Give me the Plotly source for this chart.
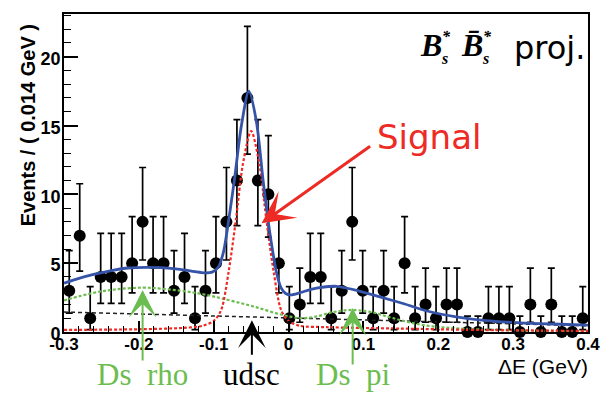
import numpy as np
import plotly.graph_objects as go

# ---- binning: 50 bins of 0.014 GeV over [-0.3, 0.4] ----
de_lo, de_hi, n_bins = -0.3, 0.4, 50
bin_width = (de_hi - de_lo) / n_bins
de_centers = de_lo + bin_width * (np.arange(n_bins) + 0.5)

# events per bin
counts = [3, 7, 1, 4, 4, 4, 5, 8, 5, 5,
          3, 4, 1, 3, 5, 8, 11, 17, 11, 10,
          5, 1, 2, 4, 4, 1, 3, 8, 3, 1,
          3, 1, 5, 1, 2, 1, 2, 2, 0, 0,
          1, 1, 1, 0, 2, 0, 2, 0, 0, 1]

# 68% Poisson intervals (lower, upper) for n = 0..17
poisson_lo = [0.0, 0.173, 0.708, 1.367, 2.086, 2.840, 3.620, 4.419, 5.232,
              6.057, 6.891, 7.734, 8.585, 9.441, 10.30, 11.17, 12.04, 12.92]
poisson_hi = [1.148, 3.300, 4.638, 5.918, 7.163, 8.382, 9.584, 10.77, 11.95,
              13.11, 14.27, 15.42, 16.56, 17.70, 18.83, 19.96, 21.08, 22.20]

err_up = [poisson_hi[n] - n for n in counts]
err_dn = [n - poisson_lo[n] for n in counts]

# ---- fit projections ----
total_x = [-0.300, -0.280, -0.259, -0.235, -0.214, -0.190, -0.170, -0.145,
           -0.125, -0.112, -0.102, -0.094, -0.087, -0.079, -0.072, -0.063,
           -0.053, -0.043, -0.034, -0.025, -0.016, -0.010, -0.004, 0.003,
           0.015, 0.030, 0.045, 0.064, 0.091, 0.122, 0.153, 0.189, 0.224,
           0.264, 0.309, 0.353, 0.400]
total_y = [3.55, 3.90, 4.20, 4.48, 4.65, 4.70, 4.67, 4.55,
           4.38, 4.30, 4.35, 4.70, 5.80, 8.50, 11.2, 15.0,
           17.5, 15.3, 11.0, 7.2, 4.3, 3.2, 2.8, 2.7,
           2.85, 3.10, 3.25, 3.32, 3.03, 2.55, 2.07, 1.47, 1.10,
           0.82, 0.67, 0.58, 0.50]

signal_x = [-0.300, -0.200, -0.140, -0.115, -0.100, -0.090, -0.080, -0.070,
            -0.061, -0.050, -0.039, -0.030, -0.020, -0.010, 0.000, 0.015,
            0.050, 0.150, 0.250, 0.400]
signal_y = [0.15, 0.20, 0.30, 0.45, 0.80, 1.60, 4.40, 8.30,
            12.2, 14.6, 12.2, 8.30, 4.40, 1.60, 0.80, 0.45,
            0.35, 0.25, 0.15, 0.08]

peaking_x = [-0.300, -0.260, -0.230, -0.195, -0.170, -0.145, -0.125, -0.106,
             -0.090, -0.062, -0.040, -0.016, 0.000, 0.015, 0.035, 0.060,
             0.085, 0.110, 0.140, 0.180, 0.230, 0.300, 0.400]
peaking_y = [2.30, 2.85, 3.10, 3.22, 3.15, 3.00, 2.85, 2.65,
             2.45, 2.07, 1.75, 1.35, 1.15, 1.00, 1.10, 1.45,
             1.60, 1.45, 1.00, 0.50, 0.25, 0.12, 0.05]

udsc_x = [-0.300, 0.400]
udsc_y = [1.45, 0.45]

# axis ticks
x_tickvals = [-0.3, -0.2, -0.1, 0.0, 0.1, 0.2, 0.3, 0.4]
x_ticktext = ["-0.3", "-0.2", "-0.1", "0", "0.1", "0.2", "0.3", "0.4"]
y_tickvals = [0, 5, 10, 15, 20]
y_ticktext = ["0", "5", "10", "15", "20"]

W, H = 615, 394
ML, MR, MT, MB = 64, 27, 12, 62
y_max = 23.1

GREEN = "#6cbd4f"
RED = "#ee2a24"
BLUE = "#3553a8"


def px(x):
    return (x - ML) / (W - ML - MR)


def py(y):
    return (H - MB - y) / (H - MT - MB)


fig = go.Figure()

fig.add_trace(go.Scatter(
    x=de_centers, y=counts, mode="markers",
    marker=dict(color="black", size=12),
    error_y=dict(type="data", symmetric=False, array=err_up, arrayminus=err_dn,
                 color="black", thickness=1.7, width=3.5),
    cliponaxis=False, hoverinfo="skip"))

fig.add_trace(go.Scatter(
    x=udsc_x, y=udsc_y, mode="lines",
    line=dict(color="#222222", width=1.5, dash="4px,3px")))

fig.add_trace(go.Scatter(
    x=peaking_x, y=peaking_y, mode="lines",
    line=dict(color=GREEN, width=2.2, dash="3px,2px", shape="spline", smoothing=1.0)))

fig.add_trace(go.Scatter(
    x=signal_x, y=signal_y, mode="lines",
    line=dict(color=RED, width=2.2, dash="3px,2px", shape="spline", smoothing=0.8)))

fig.add_trace(go.Scatter(
    x=total_x, y=total_y, mode="lines",
    line=dict(color=BLUE, width=2.8, shape="spline", smoothing=0.8)))

ann = []

# header text: B*_s anti-B*_s with stacked sub/superscripts
SERIF_BI = dict(family="Liberation Serif", color="black", weight="bold", style="italic")
for bx, btxt in [(418, "B"), (459, "B\u0304")]:
    ann.append(dict(xref="paper", yref="paper", x=px(bx), y=py(43), text=btxt,
                    xanchor="left", yanchor="middle", showarrow=False,
                    font=dict(size=32, **SERIF_BI)))
    ann.append(dict(xref="paper", yref="paper", x=px(bx + 22), y=py(35), text="*",
                    xanchor="left", yanchor="middle", showarrow=False,
                    font=dict(size=16, **SERIF_BI)))
    ann.append(dict(xref="paper", yref="paper", x=px(bx + 21), y=py(57), text="s",
                    xanchor="left", yanchor="middle", showarrow=False,
                    font=dict(size=16, **SERIF_BI)))
ann.append(dict(xref="paper", yref="paper", x=px(512), y=py(46), text="proj.",
                xanchor="left", yanchor="middle", showarrow=False,
                font=dict(size=32, family="DejaVu Sans", color="black")))

# signal label and arrow
ann.append(dict(xref="paper", yref="paper", x=px(375), y=py(136), text="Signal",
                xanchor="left", yanchor="middle", showarrow=False,
                font=dict(size=34, family="DejaVu Sans", color=RED)))
ann.append(dict(xref="x", yref="y", x=-0.036, y=7.9, ax=110, ay=-78, text="",
                showarrow=True, arrowhead=3, arrowsize=1.8, arrowwidth=3,
                arrowcolor=RED))

# component labels below the axis
for label, xc, col, tip_y, tail in [("Ds  rho", -0.195, GREEN, 3.05, 72),
                                    ("udsc", -0.049, "black", 0.85, 36),
                                    ("Ds  pi", 0.0856, GREEN, 1.75, 58)]:
    ann.append(dict(xref="x", yref="y", x=xc, y=tip_y, ax=0, ay=tail, text="",
                    showarrow=True, arrowhead=3, arrowsize=2.3, arrowwidth=2,
                    arrowcolor=col))
    ann.append(dict(xref="x", yref="paper", x=xc, y=py(375), text=label,
                    xanchor="center", yanchor="middle", showarrow=False,
                    font=dict(size=31, family="Liberation Serif", color=col)))

# axis titles
ann.append(dict(xref="paper", yref="paper", x=px(590), y=py(367), text="ΔE (GeV)",
                xanchor="right", yanchor="middle", showarrow=False,
                font=dict(size=21, family="Liberation Sans", color="black")))
ann.append(dict(xref="paper", yref="paper", x=px(28), y=py(124),
                text="Events / ( 0.014 GeV )", textangle=-90,
                xanchor="center", yanchor="middle", showarrow=False,
                font=dict(size=20, family="Liberation Sans", color="black", weight="bold")))

fig.update_layout(
    width=W, height=H,
    margin=dict(l=ML, r=MR, t=MT, b=MB),
    paper_bgcolor="white", plot_bgcolor="white",
    showlegend=False,
    annotations=ann,
    xaxis=dict(range=[de_lo, de_hi], tickvals=x_tickvals, ticktext=x_ticktext,
               ticks="inside", ticklen=11, tickwidth=1.5, tickcolor="black",
               minor=dict(dtick=0.02, ticks="inside", ticklen=6, tickwidth=1.2,
                          tickcolor="black"),
               showline=True, linecolor="black", linewidth=1.6, mirror=True,
               showgrid=False, zeroline=False, ticklabelstandoff=-4,
               tickfont=dict(family="Liberation Sans", size=17, color="black", weight="bold")),
    yaxis=dict(range=[0, y_max], tickvals=y_tickvals, ticktext=y_ticktext,
               ticks="inside", ticklen=14, tickwidth=1.5, tickcolor="black",
               minor=dict(dtick=1, ticks="inside", ticklen=7, tickwidth=1.2,
                          tickcolor="black"),
               showline=True, linecolor="black", linewidth=1.6, mirror=True,
               showgrid=False, zeroline=False, ticklabelstandoff=-2, ticklabelshift=2,
               tickfont=dict(family="Liberation Sans", size=18, color="black", weight="bold")),
)

fig.write_html("out.html")
